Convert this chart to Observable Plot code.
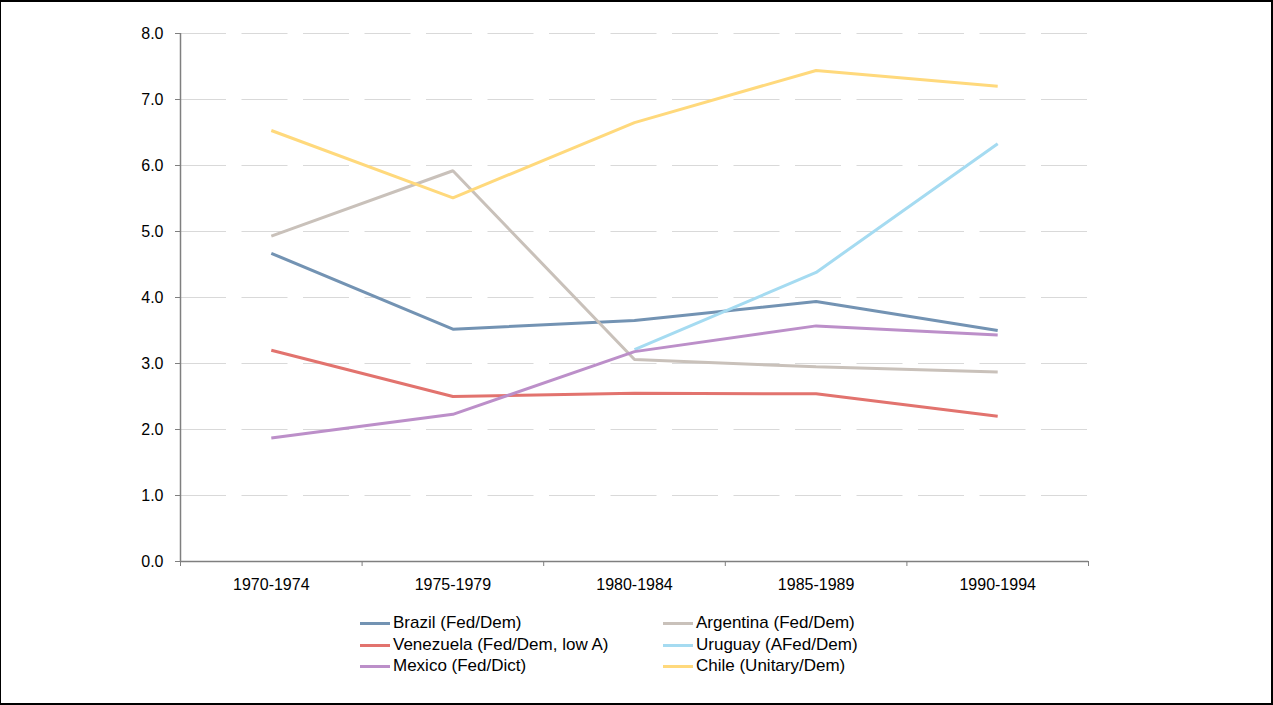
<!DOCTYPE html>
<html>
<head>
<meta charset="utf-8">
<script src="https://cdn.jsdelivr.net/npm/d3@7"></script>
<script src="https://cdn.jsdelivr.net/npm/@observablehq/plot@0.6"></script>
<style>
  html, body { margin: 0; padding: 0; background: #fff; }
  #frame { position: absolute; left: 0; top: 0; width: 1273px; height: 705px; box-sizing: border-box;
           border: 2px solid #000; border-left: 1px solid #000; }
  #chart { position: absolute; left: 0; top: 0; }
  .leg { position: absolute; font-family: "Liberation Sans", Arial, sans-serif; font-size: 17px; color: #000;
         white-space: nowrap; line-height: 20px; }
  .sw { position: absolute; width: 30px; height: 3px; }
</style>
</head>
<body>
<div id="chart"></div>
<div id="legend"></div>
<div id="frame"></div>
<script>
const periods = ["1970-1974", "1975-1979", "1980-1984", "1985-1989", "1990-1994"];
const seriesNames = ["Brazil (Fed/Dem)", "Argentina (Fed/Dem)", "Venezuela (Fed/Dem, low A)", "Uruguay (AFed/Dem)", "Mexico (Fed/Dict)", "Chile (Unitary/Dem)"];
const brazil    = [4.67, 3.52, 3.65, 3.94, 3.50];
const argentina = [4.93, 5.92, 3.06, 2.95, 2.87];
const venezuela = [3.20, 2.50, 2.55, 2.54, 2.20];
const uruguay   = [null, null, 3.21, 4.38, 6.33];
const mexico    = [1.87, 2.23, 3.18, 3.57, 3.43];
const chile     = [6.53, 5.51, 6.65, 7.44, 7.20];
const colors = ["#7393b3", "#c9c1ba", "#e2736e", "#a5dbf1", "#bc8fc9", "#ffd97c"];
const yTicks = [0, 1, 2, 3, 4, 5, 6, 7, 8];

const allSeries = [brazil, argentina, venezuela, uruguay, mexico, chile];
const rows = [];
allSeries.forEach((vals, s) => {
  vals.forEach((v, i) => rows.push({series: seriesNames[s], i, value: v}));
});
const bounds = d3.range(periods.length + 1).map(k => k - 0.5);
const font = "Liberation Sans, Arial, sans-serif";

const chart = Plot.plot({
  width: 1273,
  height: 600,
  marginLeft: 180,
  marginRight: 185,
  marginTop: 33,
  marginBottom: 39,
  style: {fontFamily: font, fontSize: "16px", color: "#000", background: "transparent"},
  x: {type: "linear", domain: [-0.5, periods.length - 0.5]},
  y: {domain: [0, 8]},
  color: {domain: seriesNames, range: colors},
  marks: [
    Plot.ruleY(yTicks.filter(d => d > 0), {stroke: "#d9d9d9", strokeWidth: 1.2, strokeDasharray: "46,15.5"}),
    Plot.axisY({ticks: yTicks, tickSize: 5, tickPadding: 12, tickFormat: d3.format(".1f"), label: null,
                stroke: "#7f7f7f", fontSize: 16, fill: "#000"}),
    Plot.axisX({ticks: bounds, tickSize: 5, tickFormat: () => "", label: null, stroke: "#7f7f7f"}),
    Plot.axisX({ticks: d3.range(periods.length), tickSize: 0, tickPadding: 17, tickFormat: i => periods[i],
                label: null, fontSize: 16, fill: "#000"}),
    Plot.ruleX([-0.5], {stroke: "#7f7f7f", strokeWidth: 1.5}),
    Plot.ruleY([0], {stroke: "#7f7f7f", strokeWidth: 1.5}),
    Plot.line(rows, {x: "i", y: "value", z: "series", stroke: "series", strokeWidth: 3,
                     strokeLinejoin: "miter", strokeLinecap: "butt"})
  ]
});
document.getElementById("chart").appendChild(chart);

// legend
const legend = document.getElementById("legend");
const legX = [360, 663];
const legY = [623, 645, 666];
seriesNames.forEach((name, k) => {
  const col = k % 2, row = Math.floor(k / 2);
  const sw = document.createElement("div");
  sw.className = "sw";
  sw.style.left = legX[col] + "px";
  sw.style.top = (legY[row] - 1.5) + "px";
  sw.style.background = colors[k];
  legend.appendChild(sw);
  const t = document.createElement("div");
  t.className = "leg";
  t.style.left = (legX[col] + 33) + "px";
  t.style.top = (legY[row] - 10) + "px";
  t.textContent = name;
  legend.appendChild(t);
});
</script>
</body>
</html>
